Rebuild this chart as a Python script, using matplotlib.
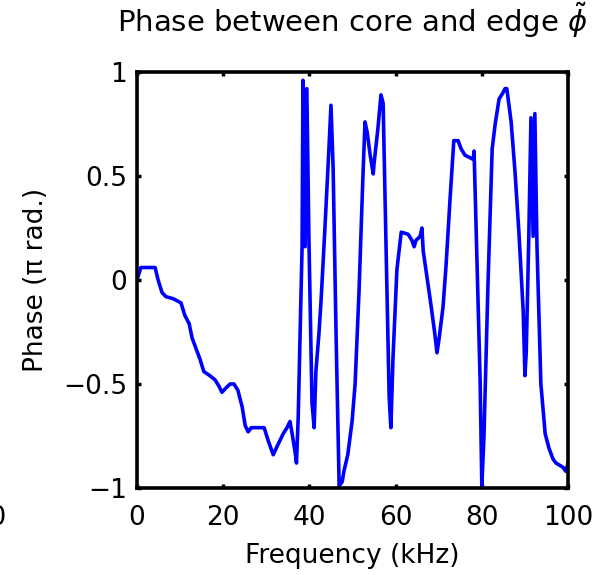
import matplotlib
matplotlib.use("Agg")
import matplotlib.pyplot as plt

# Phase, frequency in kHz, phase in units of pi
freq = [0.0, 0.9, 2.8, 4.2, 4.9, 5.8, 6.7, 8.4, 10.2, 11.1, 12.1, 12.8, 13.7,
        14.6, 15.5, 16.9, 18.1, 19.0, 19.7, 20.6, 21.6, 22.5, 23.4, 24.4, 25.1,
        25.8, 26.5, 29.5, 30.4, 31.6, 32.5, 33.2, 33.9, 34.8, 35.5, 36.0, 36.7,
        37.0, 37.4, 38.3, 38.5, 39.0, 39.4, 39.9, 40.6, 41.1, 41.5, 42.2, 42.7,
        43.6, 44.5, 45.0, 45.5, 46.2, 46.9, 47.6, 48.0, 48.9, 49.9, 50.6, 51.5,
        52.4, 52.9, 53.4, 54.1, 54.8, 55.0, 55.9, 56.6, 57.1, 57.8, 58.5, 58.9,
        59.4, 60.3, 61.3, 62.9, 63.8, 64.3, 64.7, 65.7, 66.1, 66.4, 67.3, 68.2,
        69.1, 69.6, 70.1, 71.0, 71.7, 72.6, 73.5, 74.5, 75.2, 76.1, 78.0, 78.2,
        78.7, 79.6, 80.0, 80.5, 81.4, 82.4, 83.1, 84.0, 84.9, 85.4, 85.8, 86.8,
        87.7, 88.6, 89.6, 90.0, 90.3, 90.9, 91.4, 91.9, 92.3, 92.8, 93.7, 94.7,
        95.6, 96.5, 97.2, 98.8, 99.5, 100.0]
phase = [0.00, 0.06, 0.06, 0.06, 0.00, -0.06, -0.08, -0.09, -0.11, -0.17, -0.21,
         -0.28, -0.33, -0.38, -0.44, -0.46, -0.48, -0.51, -0.54, -0.52, -0.50,
         -0.50, -0.53, -0.61, -0.70, -0.73, -0.71, -0.71, -0.77, -0.84, -0.80,
         -0.77, -0.74, -0.71, -0.68, -0.74, -0.83, -0.88, -0.66, 0.16, 0.96,
         0.16, 0.92, 0.18, -0.59, -0.71, -0.44, -0.26, -0.10, 0.25, 0.62, 0.84,
         0.54, -0.28, -0.99, -0.97, -0.92, -0.84, -0.68, -0.50, -0.06, 0.49,
         0.76, 0.71, 0.60, 0.51, 0.56, 0.73, 0.89, 0.85, 0.14, -0.56, -0.71,
         -0.37, 0.05, 0.23, 0.22, 0.19, 0.16, 0.19, 0.21, 0.25, 0.14, 0.01,
         -0.12, -0.26, -0.35, -0.28, -0.13, 0.07, 0.38, 0.67, 0.67, 0.63, 0.60,
         0.58, 0.62, 0.23, -0.48, -0.99, -0.75, -0.04, 0.63, 0.75, 0.87, 0.90,
         0.92, 0.92, 0.76, 0.52, 0.23, -0.15, -0.46, -0.35, 0.21, 0.78, 0.21,
         0.80, 0.16, -0.50, -0.74, -0.81, -0.86, -0.88, -0.90, -0.92, -0.88]

xticks = [0, 20, 40, 60, 80, 100]
yticks = [-1, -0.5, 0, 0.5, 1]
ytick_labels = ["\u22121", "\u22120.5", "0", "0.5", "1"]

plt.rcParams['font.family'] = ['DejaVu Sans']

fig = plt.figure(figsize=(6.07, 5.75), dpi=100)
ax = fig.add_axes([0.2257, 0.1513, 0.7101, 0.7235])

ax.plot(freq, phase, color='#0000ff', linewidth=2.6)

ax.set_xlim(0, 100)
ax.set_ylim(-1, 1)
ax.set_xticks(xticks)
ax.set_xticklabels([str(t) for t in xticks])
ax.set_yticks(yticks)
ax.set_yticklabels(ytick_labels)
ax.tick_params(direction='in', length=3, width=2.5, top=True, right=True,
               labelsize=19)
ax.tick_params(axis='x', pad=12)
ax.tick_params(axis='y', pad=7)
for s in ax.spines.values():
    s.set_linewidth(2.6)

ax.set_xlabel("Frequency (kHz)", fontsize=19)
ax.xaxis.set_label_coords(0.5, -0.132)
ax.set_ylabel("Phase (\u03c0 rad.)", fontsize=19)
ax.yaxis.set_label_coords(-0.205, 0.5)
ax.set_title(r"Phase between core and edge $\tilde{\phi}$", fontsize=21, pad=29)

# cut-off tick label of the neighbouring panel at the left edge
fig.text(6 / 607, 1 - 518 / 575, "100", fontsize=19, ha='right', va='center')

fig.savefig("out.png", dpi=100)
